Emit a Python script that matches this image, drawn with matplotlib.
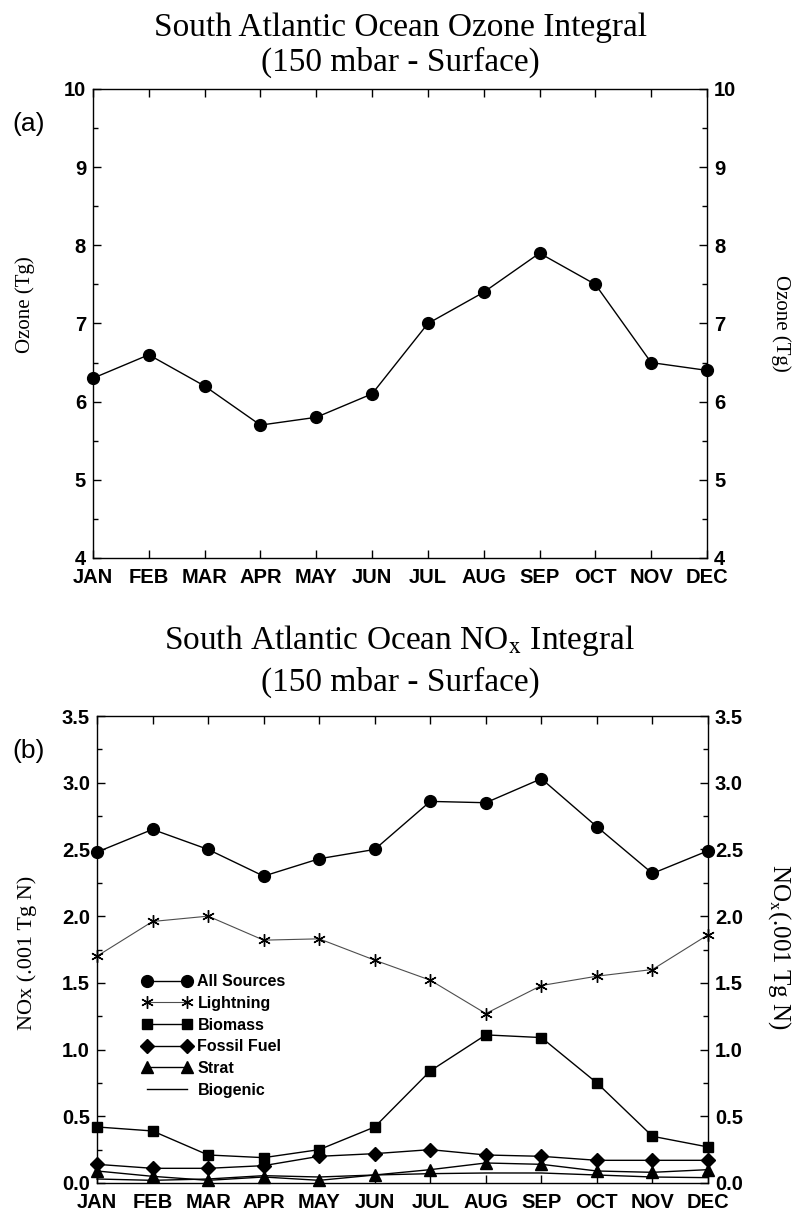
import numpy as np
import matplotlib
matplotlib.use('Agg')
import matplotlib.pyplot as plt
from matplotlib.ticker import MultipleLocator

plt.rcParams['font.family'] = 'Liberation Sans'
plt.rcParams['mathtext.fontset'] = 'stix'

# data
months = ['JAN', 'FEB', 'MAR', 'APR', 'MAY', 'JUN', 'JUL', 'AUG', 'SEP', 'OCT', 'NOV', 'DEC']
ozone = [6.3, 6.6, 6.2, 5.7, 5.8, 6.1, 7.0, 7.4, 7.9, 7.5, 6.5, 6.4]

all_sources = [2.48, 2.65, 2.50, 2.30, 2.43, 2.50, 2.86, 2.85, 3.03, 2.67, 2.32, 2.49]
lightning = [1.70, 1.96, 2.00, 1.82, 1.83, 1.67, 1.52, 1.27, 1.48, 1.55, 1.60, 1.86]
biomass = [0.42, 0.39, 0.21, 0.19, 0.25, 0.42, 0.84, 1.11, 1.09, 0.75, 0.35, 0.27]
fossil = [0.14, 0.11, 0.11, 0.13, 0.20, 0.22, 0.25, 0.21, 0.20, 0.17, 0.17, 0.17]
strat = [0.09, 0.05, 0.02, 0.045, 0.02, 0.06, 0.10, 0.15, 0.14, 0.09, 0.08, 0.10]
biogenic = [0.03, 0.02, 0.03, 0.055, 0.045, 0.06, 0.07, 0.075, 0.075, 0.06, 0.045, 0.04]

x = np.arange(len(months))
serif = 'Liberation Serif'
W, H = 793, 1216

fig = plt.figure(figsize=(W / 100, H / 100), dpi=100)
ax1 = fig.add_axes([93/W, 1-558/H, (707-93)/W, (558-89)/H])
ax2 = fig.add_axes([97/W, 1-1183/H, (708-97)/W, (1183-716)/H])


def style_axes(ax, ymin, ymax, major, minor, fmt):
    ax.set_xlim(0, len(months) - 1)
    ax.set_ylim(ymin, ymax)
    ax.set_xticks(x)
    ax.set_xticklabels(months)
    ax.yaxis.set_major_locator(MultipleLocator(major))
    ax.yaxis.set_minor_locator(MultipleLocator(minor))
    ax.yaxis.set_major_formatter(fmt)
    ax.tick_params(which='both', direction='in', top=True, right=True,
                   labelright=True, labelsize=14.5, width=1)
    ax.tick_params(which='major', length=6)
    ax.tick_params(which='minor', length=3.5)
    ax.tick_params(axis='y', pad=5)
    ax.tick_params(axis='x', pad=7)
    ax.tick_params(axis='x', which='minor', top=False, bottom=False)
    for lab in ax.get_xticklabels() + ax.get_yticklabels():
        lab.set_fontweight('bold')
    for s in ax.spines.values():
        s.set_linewidth(1)


style_axes(ax1, 4, 10, 1, 0.5, '{x:.0f}')
style_axes(ax2, 0, 3.5, 0.5, 0.25, '{x:.1f}')

# (a) ozone
ax1.plot(x, ozone, color='black', lw=1, marker='o', ms=8.5, clip_on=False, zorder=3)

# (b) NOx sources
kw = dict(color='black', lw=1, clip_on=False, zorder=3)
ax2.plot(x, all_sources, marker='o', ms=8.5, label='All Sources', **kw)
ax2.plot(x, lightning, marker=(6, 2, 0), ms=9, mew=1, mec='black', label='Lightning',
         color='0.3', lw=0.8, clip_on=False, zorder=3)
ax2.plot(x, biomass, marker='s', ms=7.5, label='Biomass', **kw)
ax2.plot(x, fossil, marker='D', ms=7, label='Fossil Fuel', **kw)
ax2.plot(x, strat, marker='^', ms=9, label='Strat', **kw)
ax2.plot(x, biogenic, label='Biogenic', **kw)

leg = ax2.legend(loc='upper left', bbox_to_anchor=(0.0736, 0.447), frameon=False,
                 numpoints=2, handlelength=3.1, handletextpad=0.37, borderpad=0,
                 borderaxespad=0, labelspacing=0.42,
                 prop={'size': 11.5, 'weight': 'bold'})

# axis labels
fig.text(25/W, 1-305/H, 'Ozone (Tg)', rotation=90, ha='center', va='center',
         fontfamily=serif, fontsize=15)
fig.text(781/W, 1-323/H, 'Ozone (Tg)', rotation=270, ha='center', va='center',
         fontfamily=serif, fontsize=15)
fig.text(27/W, 1-953/H, 'NOx (.001 Tg N)', rotation=90, ha='center', va='center',
         fontfamily=serif, fontsize=16)
fig.text(779/W, 1-947/H, 'NO$_\\mathrm{x}$(.001 Tg N)', rotation=270, ha='center', va='center',
         fontfamily=serif, fontsize=18)

# titles and panel letters
cx = 400 / W
fig.text(cx, 1-28/H, 'South Atlantic Ocean Ozone Integral', ha='center', va='center',
         fontfamily=serif, fontsize=24)
fig.text(cx, 1-62/H, '(150 mbar - Surface)', ha='center', va='center',
         fontfamily=serif, fontsize=24)
fig.text(cx, 1-640/H, 'South Atlantic Ocean NO$_\\mathrm{x}$ Integral', ha='center', va='center',
         fontfamily=serif, fontsize=24)
fig.text(cx, 1-682/H, '(150 mbar - Surface)', ha='center', va='center',
         fontfamily=serif, fontsize=24)
fig.text(29/W, 1-124/H, '(a)', ha='center', va='center', fontsize=19)
fig.text(29/W, 1-751/H, '(b)', ha='center', va='center', fontsize=19)

fig.savefig('out.png', dpi=100)
